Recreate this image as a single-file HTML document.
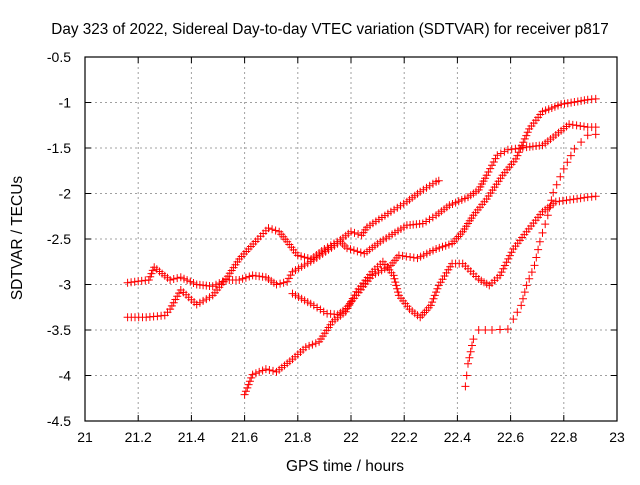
<!DOCTYPE html>
<html><head><meta charset="utf-8"><style>
body{margin:0;background:#fff;}
svg text{font-family:"Liberation Sans",sans-serif;font-size:14px;fill:#000;}
</style></head><body>
<svg id="chart" width="640" height="480" xmlns="http://www.w3.org/2000/svg">
<rect width="640" height="480" fill="#fff"/>
<text x="330" y="34" text-anchor="middle" style="font-size:15.3px">Day 323 of 2022, Sidereal Day-to-day VTEC variation (SDTVAR) for receiver p817</text>
<text x="345" y="471" text-anchor="middle" style="font-size:15.5px">GPS time / hours</text>
<text transform="translate(22,238) rotate(-90)" text-anchor="middle" style="font-size:15.5px">SDTVAR / TECUs</text>
<g id="grid"></g><g id="marks"></g><g id="axes"></g>
</svg>
<script>
const xTicks=[21,21.2,21.4,21.6,21.8,22,22.2,22.4,22.6,22.8,23];
const xTickLabels=["21","21.2","21.4","21.6","21.8","22","22.2","22.4","22.6","22.8","23"];
const yTicks=[-0.5,-1,-1.5,-2,-2.5,-3,-3.5,-4,-4.5];
const yTickLabels=["-0.5","-1","-1.5","-2","-2.5","-3","-3.5","-4","-4.5"];
const track1X=[21.16,21.24,21.26,21.29,21.32,21.36,21.42,21.48,21.53,21.58,21.63,21.68,21.72,21.76,21.78,21.86,21.96,21.985,22.05,22.11,22.21,22.27,22.32,22.37,22.44,22.48,22.51,22.55,22.59,22.66,22.72,22.76,22.82,22.89,22.92];
const track1Y=[-2.98,-2.95,-2.81,-2.88,-2.95,-2.92,-3.0,-3.02,-2.95,-2.95,-2.9,-2.92,-3.0,-2.97,-2.86,-2.73,-2.53,-2.6,-2.66,-2.53,-2.35,-2.33,-2.24,-2.13,-2.04,-1.96,-1.8,-1.58,-1.52,-1.49,-1.47,-1.38,-1.24,-1.27,-1.27];
const track2X=[21.16,21.23,21.3,21.32,21.36,21.42,21.48,21.53,21.58,21.65,21.69,21.73,21.76,21.8,21.85,21.9,21.96,22.0,22.04,22.06,22.15,22.21,22.26,22.32,22.33];
const track2Y=[-3.36,-3.36,-3.34,-3.27,-3.06,-3.22,-3.12,-2.94,-2.72,-2.5,-2.38,-2.42,-2.53,-2.68,-2.72,-2.61,-2.51,-2.42,-2.46,-2.37,-2.2,-2.09,-1.98,-1.87,-1.86];
const track3X=[21.78,21.86,21.91,21.95,21.98,22.02,22.08,22.15,22.18,22.25,22.32,22.38,22.42,22.46,22.51,22.57,22.62,22.67,22.72,22.79,22.89,22.92];
const track3Y=[-3.1,-3.23,-3.32,-3.33,-3.27,-3.12,-2.9,-2.79,-2.68,-2.71,-2.61,-2.55,-2.42,-2.24,-2.06,-1.8,-1.62,-1.29,-1.1,-1.02,-0.97,-0.96];
const track4X=[21.6,21.63,21.68,21.72,21.78,21.83,21.88,21.93,21.98,22.02,22.08,22.12,22.16,22.18,22.22,22.26,22.3,22.33,22.38,22.42,22.48,22.52,22.56,22.61,22.66,22.72,22.77,22.89,22.92];
const track4Y=[-4.21,-3.99,-3.93,-3.96,-3.82,-3.69,-3.63,-3.41,-3.3,-3.08,-2.86,-2.75,-2.9,-3.12,-3.27,-3.36,-3.23,-3.01,-2.77,-2.77,-2.94,-3.01,-2.9,-2.61,-2.42,-2.2,-2.09,-2.04,-2.03];
const track5X=[22.43,22.435,22.44,22.45,22.46,22.48,22.53,22.59,22.61,22.64,22.66,22.69,22.71,22.74,22.76,22.8,22.84,22.89,22.92];
const track5Y=[-4.12,-4.0,-3.87,-3.74,-3.6,-3.5,-3.5,-3.49,-3.38,-3.23,-3.01,-2.79,-2.53,-2.24,-1.99,-1.73,-1.51,-1.36,-1.35];
const tracks=[[track1X,track1Y,3.5],[track2X,track2Y,3.5],[track3X,track3Y,3.5],[track4X,track4Y,3.5],[track5X,track5Y,8]];
const L=85,R=617,T=57,B=421;
const xS=v=>L+(v-21)/2*(R-L);
const yS=v=>T+(-0.5-v)/4*(B-T);
const NS="http://www.w3.org/2000/svg";
function mk(tag,attrs,parent){const e=document.createElementNS(NS,tag);for(const k in attrs)e.setAttribute(k,attrs[k]);parent.appendChild(e);return e;}
const grid=document.getElementById('grid'),axes=document.getElementById('axes'),marks=document.getElementById('marks');
xTicks.forEach((t,i)=>{const x=xS(t);
 if(i>0&&i<xTicks.length-1){const g=mk('line',{x1:x,x2:x,y1:T,y2:B,stroke:'#a0a0a0','stroke-dasharray':'2,3'},grid);
 
 }
 mk('line',{x1:x,x2:x,y1:B,y2:B-6,stroke:'#000'},axes);mk('line',{x1:x,x2:x,y1:T,y2:T+6,stroke:'#000'},axes);
 const tx=mk('text',{x:x,y:B+21,'text-anchor':'middle'},axes);tx.textContent=xTickLabels[i];
 
 
});
yTicks.forEach((t,i)=>{const y=yS(t);
 if(i>0&&i<yTicks.length-1){const g=mk('line',{x1:L,x2:R,y1:y,y2:y,stroke:'#a0a0a0','stroke-dasharray':'2,3'},grid);
 
 }
 mk('line',{x1:L,x2:L+6,y1:y,y2:y,stroke:'#000'},axes);mk('line',{x1:R,x2:R-6,y1:y,y2:y,stroke:'#000'},axes);
 const tx=mk('text',{x:L-14,y:y+5,'text-anchor':'end'},axes);tx.textContent=yTickLabels[i];
 
 
});
const box=mk('rect',{x:L,y:T,width:R-L,height:B-T,fill:'none',stroke:'#000','stroke-width':1.2},axes);


tracks.forEach((tr,ti)=>{const [xs,ys,step]=tr;
 const g=mk('g',{stroke:'#ff0000','stroke-width':1},marks);
 
 
 let d='';
 for(let i=0;i<xs.length-1;i++){
  const x0=xS(xs[i]),y0=yS(ys[i]),x1=xS(xs[i+1]),y1=yS(ys[i+1]);
  const len=Math.hypot(x1-x0,y1-y0),n=Math.max(1,Math.round(len/step));
  for(let k=0;k<n;k++){const px=x0+(x1-x0)*k/n,py=y0+(y1-y0)*k/n;
   d+=`M${(px-4).toFixed(1)} ${py.toFixed(1)}h8M${px.toFixed(1)} ${(py-4).toFixed(1)}v8`;}
 }
 const lx=xS(xs[xs.length-1]),ly=yS(ys[ys.length-1]);
 d+=`M${lx-4} ${ly}h8M${lx} ${ly-4}v8`;
 mk('path',{d:d,fill:'none'},g);
});
</script>
</body></html>
